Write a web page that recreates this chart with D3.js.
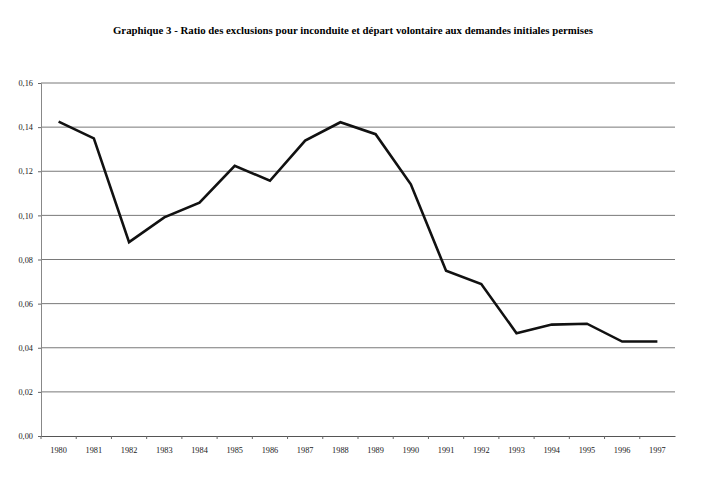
<!DOCTYPE html>
<html>
<head>
<meta charset="utf-8">
<script src="https://cdn.jsdelivr.net/npm/d3@7"></script>
<style>
  body { margin: 0; background: #fff; }
  svg { display: block; }
</style>
</head>
<body>
<svg id="chart" width="712" height="482"></svg>
<script>
// data
const years = [1980, 1981, 1982, 1983, 1984, 1985, 1986, 1987, 1988,
  1989, 1990, 1991, 1992, 1993, 1994, 1995, 1996, 1997];
const ratios = [0.1425, 0.1349, 0.0879, 0.0991, 0.1058, 0.1225, 0.1157, 0.1339, 0.1422,
  0.1368, 0.1141, 0.0749, 0.0689, 0.0466, 0.0505, 0.0509, 0.0428, 0.0428];
const yTicks = [0, 0.02, 0.04, 0.06, 0.08, 0.10, 0.12, 0.14, 0.16];

const svg = d3.select("#chart");
const margin = { top: 83, right: 37, bottom: 46, left: 41 };
const width = 712 - margin.left - margin.right;
const height = 482 - margin.top - margin.bottom;

svg.append("text")
  .attr("x", 353)
  .attr("y", 34)
  .attr("text-anchor", "middle")
  .style("font-family", "'Liberation Serif', 'Times New Roman', serif")
  .style("font-weight", "bold")
  .style("font-size", "10.8px")
  .text("Graphique 3 - Ratio des exclusions pour inconduite et départ volontaire aux demandes initiales permises");

const g = svg.append("g").attr("transform", `translate(${margin.left},${margin.top})`);

const x = d3.scaleBand().domain(years).range([0, width]);
const y = d3.scaleLinear().domain([0, 0.16]).range([height, 0]);

const fmt = d => d3.format(".2f")(d).replace(".", ",");

// gridlines
g.append("g")
  .selectAll("line")
  .data(yTicks.filter(d => d > 0))
  .join("line")
  .attr("x1", 0)
  .attr("x2", width)
  .attr("y1", d => y(d))
  .attr("y2", d => y(d))
  .attr("stroke", "#6a6a6a")
  .attr("stroke-width", 0.9);

// y axis
const yAxis = g.append("g")
  .call(d3.axisLeft(y).tickValues(yTicks).tickFormat(fmt).tickSize(3).tickPadding(5));
yAxis.select(".domain").attr("stroke", "#888");
yAxis.selectAll(".tick line").attr("stroke", "#666");
yAxis.selectAll("text")
  .style("font-family", "'Liberation Serif', 'Times New Roman', serif")
  .style("font-size", "8.3px")
  .style("fill", "#222");

// x axis, ticks between categories
const xAxis = g.append("g")
  .attr("transform", `translate(0,${height})`)
  .call(d3.axisBottom(x).tickSize(0).tickPadding(11));
xAxis.select(".domain").attr("stroke", "#555");
xAxis.selectAll("text")
  .style("font-family", "'Liberation Serif', 'Times New Roman', serif")
  .style("font-size", "8.3px")
  .style("fill", "#222");
g.append("g")
  .selectAll("line")
  .data(years)
  .join("line")
  .attr("x1", d => x(d))
  .attr("x2", d => x(d))
  .attr("y1", height)
  .attr("y2", height + 3)
  .attr("stroke", "#666");

// series line
const line = d3.line()
  .x((d, i) => x(years[i]) + x.bandwidth() / 2)
  .y(d => y(d));

g.append("path")
  .datum(ratios)
  .attr("fill", "none")
  .attr("stroke", "#111")
  .attr("stroke-width", 2.6)
  .attr("stroke-linejoin", "miter")
  .attr("d", line);
</script>
</body>
</html>
